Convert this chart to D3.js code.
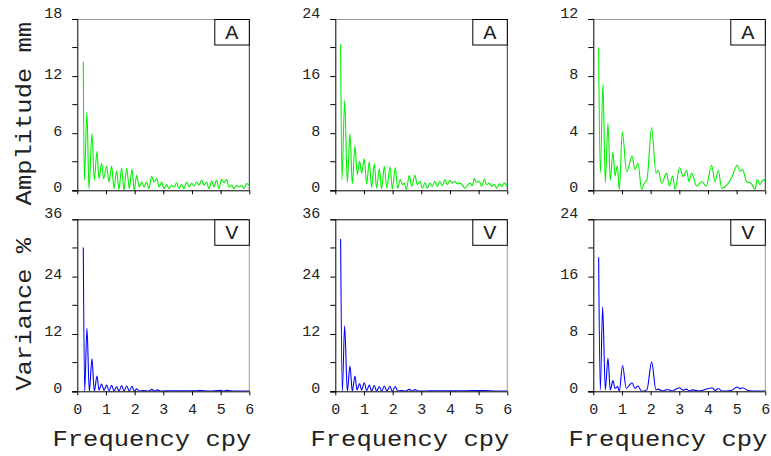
<!DOCTYPE html>
<html>
<head>
<meta charset="utf-8">
<script src="https://cdn.jsdelivr.net/npm/d3@7"></script>
<style>
  html, body { margin: 0; padding: 0; background: #fff; }
  svg { display: block; }
  text { font-family: "Courier New", Courier, "Nimbus Mono PS", "Nimbus Mono L", FreeMono, "Liberation Mono", monospace; fill: #222; }
</style>
</head>
<body>
<svg id="chart" width="771" height="456"></svg>
<script>
// Spectra as [frequency (cpy), value] pairs, one array per station.
const ampStation1 = [
  [0.209,13.5],[0.244,1.05],[0.337,8.2],[0.407,0.18],[0.512,6.0],[0.593,1.05],[0.686,4.1],[0.756,1.23],
  [0.849,2.8],[0.919,1.23],[1.023,2.56],[1.105,0.88],[1.198,2.56],[1.279,0.18],[1.372,2.03],[1.453,0.1],
  [1.547,2.35],[1.628,0.0],[1.721,2.35],[1.814,0.18],[1.907,2.21],[1.988,0.0],[2.07,1.58],[2.163,0.35],
  [2.244,0.88],[2.326,0.35],[2.419,0.88],[2.5,0.18],[2.593,1.47],[2.674,0.88],[2.767,1.23],[2.86,0.35],
  [2.942,0.88],[3.023,0.18],[3.116,0.6],[3.198,0.18],[3.291,0.53],[3.372,0.35],[3.465,0.77],[3.547,0.18],
  [3.64,0.63],[3.721,0.18],[3.814,0.88],[3.895,0.35],[3.988,0.77],[4.07,0.42],[4.163,0.88],[4.244,0.53],
  [4.337,1.05],[4.419,0.53],[4.512,0.88],[4.593,0.18],[4.686,0.98],[4.767,0.35],[4.86,1.05],[4.942,0.18],
  [5.035,1.16],[5.116,0.77],[5.209,1.12],[5.291,0.35],[5.384,0.53],[5.465,0.18],[5.558,0.53],[5.64,0.35],
  [5.733,0.53],[5.814,0.18],[5.907,0.7],[5.988,0.53]
];
const ampStation2 = [
  [0.186,20.5],[0.233,1.5],[0.326,12.6],[0.419,1.1],[0.512,7.9],[0.593,0.9],[0.686,6.2],[0.767,2.2],
  [0.849,4.1],[0.919,2.4],[1.012,4.4],[1.093,0.9],[1.186,4.0],[1.267,0.4],[1.36,3.7],[1.44,0.3],
  [1.535,3.0],[1.616,0.2],[1.709,3.35],[1.8,0.3],[1.907,3.3],[1.99,0.2],[2.093,3.2],[2.174,0.3],
  [2.267,1.5],[2.337,0.8],[2.407,1.0],[2.477,0.1],[2.581,2.05],[2.663,0.55],[2.779,2.1],[2.86,0.8],
  [2.953,1.26],[3.035,0.3],[3.128,1.1],[3.21,0.3],[3.302,1.0],[3.384,0.55],[3.477,1.26],[3.558,0.55],
  [3.651,1.26],[3.733,0.65],[3.826,1.5],[3.907,0.8],[4.0,1.4],[4.081,1.0],[4.174,1.26],[4.256,0.9],
  [4.349,1.0],[4.43,0.75],[4.523,0.3],[4.605,0.65],[4.698,1.0],[4.779,0.65],[4.849,1.63],[4.93,1.1],
  [5.023,1.26],[5.105,0.55],[5.198,1.58],[5.279,0.8],[5.372,1.0],[5.453,0.55],[5.547,0.8],[5.628,0.3],
  [5.721,0.9],[5.802,0.55],[5.895,1.0],[6.0,0.55]
];
const ampStation3 = [
  [0.186,10.0],[0.244,1.2],[0.337,7.45],[0.419,0.55],[0.512,4.7],[0.593,0.7],[0.686,2.7],[0.756,1.0],
  [0.837,1.7],[0.907,0.05],[1.012,4.1],[1.163,1.3],[1.244,1.7],[1.279,2.0],[1.35,2.4],[1.453,1.45],
  [1.558,1.9],[1.686,0.05],[1.756,0.4],[1.872,0.75],[2.035,4.4],[2.186,1.2],[2.267,1.4],[2.384,0.5],
  [2.558,1.2],[2.651,0.3],[2.767,1.0],[2.849,0.05],[3.01,1.6],[3.14,0.95],[3.256,1.4],[3.337,0.6],
  [3.43,1.2],[3.605,0.3],[3.779,0.6],[3.942,0.3],[4.128,1.75],[4.244,0.6],[4.36,1.4],[4.477,0.15],
  [4.709,0.5],[4.826,0.9],[5.023,1.75],[5.116,1.33],[5.21,1.45],[5.349,0.6],[5.5,0.5],[5.64,0.05],
  [5.721,0.75],[5.814,0.4],[5.93,0.75],[6.0,0.6]
];
const varStation1 = [
  [0.209,30.1],[0.256,0],[0.337,13.2],[0.419,0],[0.512,6.8],[0.593,0],[0.686,3.2],[0.756,0.3],
  [0.849,1.5],[0.93,0.2],[1.023,1.3],[1.105,0.1],[1.198,1.25],[1.279,0.05],[1.372,1.0],[1.453,0.05],
  [1.547,1.2],[1.628,0],[1.721,1.1],[1.814,0.05],[1.907,1.05],[1.988,0],[2.07,0.5],[2.163,0.05],
  [2.3,0.15],[2.5,0.05],[2.6,0.4],[2.7,0.05],[2.8,0.3],[2.9,0.05],[3.1,0.1],[3.5,0.08],[3.9,0.1],
  [4.3,0.15],[4.6,0.05],[5.0,0.2],[5.1,0.05],[5.2,0.2],[5.5,0.05],[6.0,0.05]
];
const varStation2 = [
  [0.186,31.9],[0.244,0],[0.326,13.7],[0.419,0],[0.512,5.3],[0.593,0],[0.686,3.2],[0.756,0.3],
  [0.849,1.6],[0.919,0.3],[1.012,1.8],[1.093,0.1],[1.186,1.3],[1.267,0.05],[1.36,1.2],[1.44,0.05],
  [1.535,1.0],[1.616,0],[1.709,1.1],[1.8,0.05],[1.907,1.05],[1.99,0],[2.093,1.0],[2.174,0.05],
  [2.3,0.15],[2.45,0.02],[2.58,0.4],[2.68,0.05],[2.78,0.35],[2.9,0.05],[3.3,0.08],[3.8,0.1],
  [4.2,0.08],[4.85,0.15],[5.2,0.15],[5.6,0.05],[6.0,0.05]
];
const varStation3 = [
  [0.186,18.7],[0.244,0.2],[0.326,11.8],[0.419,0.2],[0.512,4.6],[0.593,0.2],[0.686,1.5],[0.756,0.4],
  [0.849,0.65],[0.907,0],[1.02,3.6],[1.15,0.4],[1.35,1.2],[1.453,0.4],[1.56,0.75],[1.686,0],
  [1.87,0.2],[2.035,4.1],[2.186,0.2],[2.27,0.3],[2.4,0.05],[2.6,0.25],[2.75,0.05],[3.0,0.5],
  [3.12,0.15],[3.25,0.3],[3.35,0.05],[3.45,0.2],[3.7,0.05],[4.15,0.5],[4.25,0.1],[4.36,0.4],
  [4.5,0.02],[4.8,0.1],[5.02,0.6],[5.12,0.35],[5.21,0.5],[5.4,0.1],[5.7,0.02],[6.0,0.05]
];

const freqTicks = [0, 1, 2, 3, 4, 5, 6];
const ampTicks = [[0, 6, 12, 18], [0, 8, 16, 24], [0, 4, 8, 12]];
const varTicks = [[0, 12, 24, 36], [0, 12, 24, 36], [0, 8, 16, 24]];
const panelLetters = ["A", "V"];
const yTitles = ["Amplitude mm", "Variance %"];
const xTitle = "Frequency cpy";

const ampSeries = [ampStation1, ampStation2, ampStation3];
const varSeries = [varStation1, varStation2, varStation3];

const svg = d3.select("#chart");
const colLeft = [77.3, 335.3, 593.3];
const plotW = 172;
const rowTop = [19, 219.3];
const plotH = [171.3, 172];
const lineColors = ["#00f000", "#0000ff"];

function drawPanel(col, row, data, ticks) {
  const x0 = colLeft[col], y0 = rowTop[row], h = plotH[row];
  const g = svg.append("g").attr("transform", `translate(${x0},${y0})`);
  const x = d3.scaleLinear().domain([0, 6]).range([0, plotW]);
  const top = ticks[ticks.length - 1];
  const y = d3.scaleLinear().domain([0, top]).range([h, 0]);
  const step = ticks[1] - ticks[0];
  const minor = ticks.slice(0, -1).map(t => t + step / 2);

  const clipId = `clip-${row}-${col}`;
  g.append("clipPath").attr("id", clipId)
    .append("rect").attr("x", 0).attr("y", 0).attr("width", plotW).attr("height", h);

  // frame on top and right
  g.append("line").attr("x1", 0).attr("x2", plotW).attr("y1", 0.5).attr("y2", 0.5)
    .attr("stroke", row === 0 ? "#999" : "#000").attr("stroke-width", 1);
  g.append("line").attr("x1", plotW).attr("x2", plotW).attr("y1", 0).attr("y2", h)
    .attr("stroke", row === 0 ? "#333" : "#999").attr("stroke-width", 1);

  // spectrum curve
  const line = d3.line()
    .x(d => x(d[0])).y(d => y(d[1]))
    .curve(d3.curveMonotoneX);
  g.append("path").datum(data)
    .attr("clip-path", `url(#${clipId})`)
    .attr("fill", "none")
    .attr("stroke", lineColors[row])
    .attr("stroke-width", 1.1)
    .attr("d", line);

  // y axis
  const yAxis = d3.axisLeft(y).tickValues(ticks).tickSize(5).tickPadding(10);
  const ya = g.append("g").call(yAxis);
  ya.select(".domain").attr("stroke", "#000");
  ya.selectAll(".tick line").attr("stroke", "#000");
  ya.selectAll(".tick text")
    .style("font-size", "15px").attr("fill", "#222")
    .attr("dy", (d, i) => i === ticks.length - 1 ? "-0.05em" : "0.2em")
    .attr("y", (d, i) => i === 0 ? -2 : -1);
  g.append("g").selectAll("line").data(minor).join("line")
    .attr("x1", -5).attr("x2", 0)
    .attr("y1", d => y(d)).attr("y2", d => y(d))
    .attr("stroke", "#000");

  // x axis
  const xAxis = d3.axisBottom(x).tickValues(freqTicks).tickSize(4).tickPadding(8)
    .tickFormat(row === 1 ? d3.format("d") : "");
  const xa = g.append("g").attr("transform", `translate(0,${h})`).call(xAxis);
  xa.select(".domain").attr("d", `M-5,0.5H${plotW}`).attr("stroke", "#000");
  xa.selectAll(".tick line").attr("stroke", "#000");
  xa.selectAll(".tick text").style("font-size", "15px").attr("fill", "#222");

  // panel letter box
  const bw = 35, bh = 26;
  const bx = g.append("g").attr("transform", `translate(${plotW - bw},0)`);
  bx.append("rect").attr("x", 0.5).attr("y", 0.5).attr("width", bw - 0.5).attr("height", bh - 0.5)
    .attr("fill", "#fff").attr("stroke", "#000");
  bx.append("text").attr("transform", `translate(${bw / 2},${bh / 2 + 7}) scale(1,0.9)`)
    .attr("text-anchor", "middle").style("font-size", "22px").text(panelLetters[row]);

  if (row === 1) {
    g.append("text")
      .attr("transform", `translate(${plotW + 2},${h + 55}) scale(1,0.86)`)
      .attr("text-anchor", "end").style("font-size", "25.5px").text(xTitle);
  }
  if (col === 0) {
    g.append("text")
      .attr("transform", `translate(${31 - x0},${h / 2 + 9}) rotate(-90) scale(1,0.86)`)
      .attr("text-anchor", "middle").style("font-size", "25.5px").text(yTitles[row]);
  }
}

for (let c = 0; c < 3; c++) {
  drawPanel(c, 0, ampSeries[c], ampTicks[c]);
  drawPanel(c, 1, varSeries[c], varTicks[c]);
}
</script>
</body>
</html>
